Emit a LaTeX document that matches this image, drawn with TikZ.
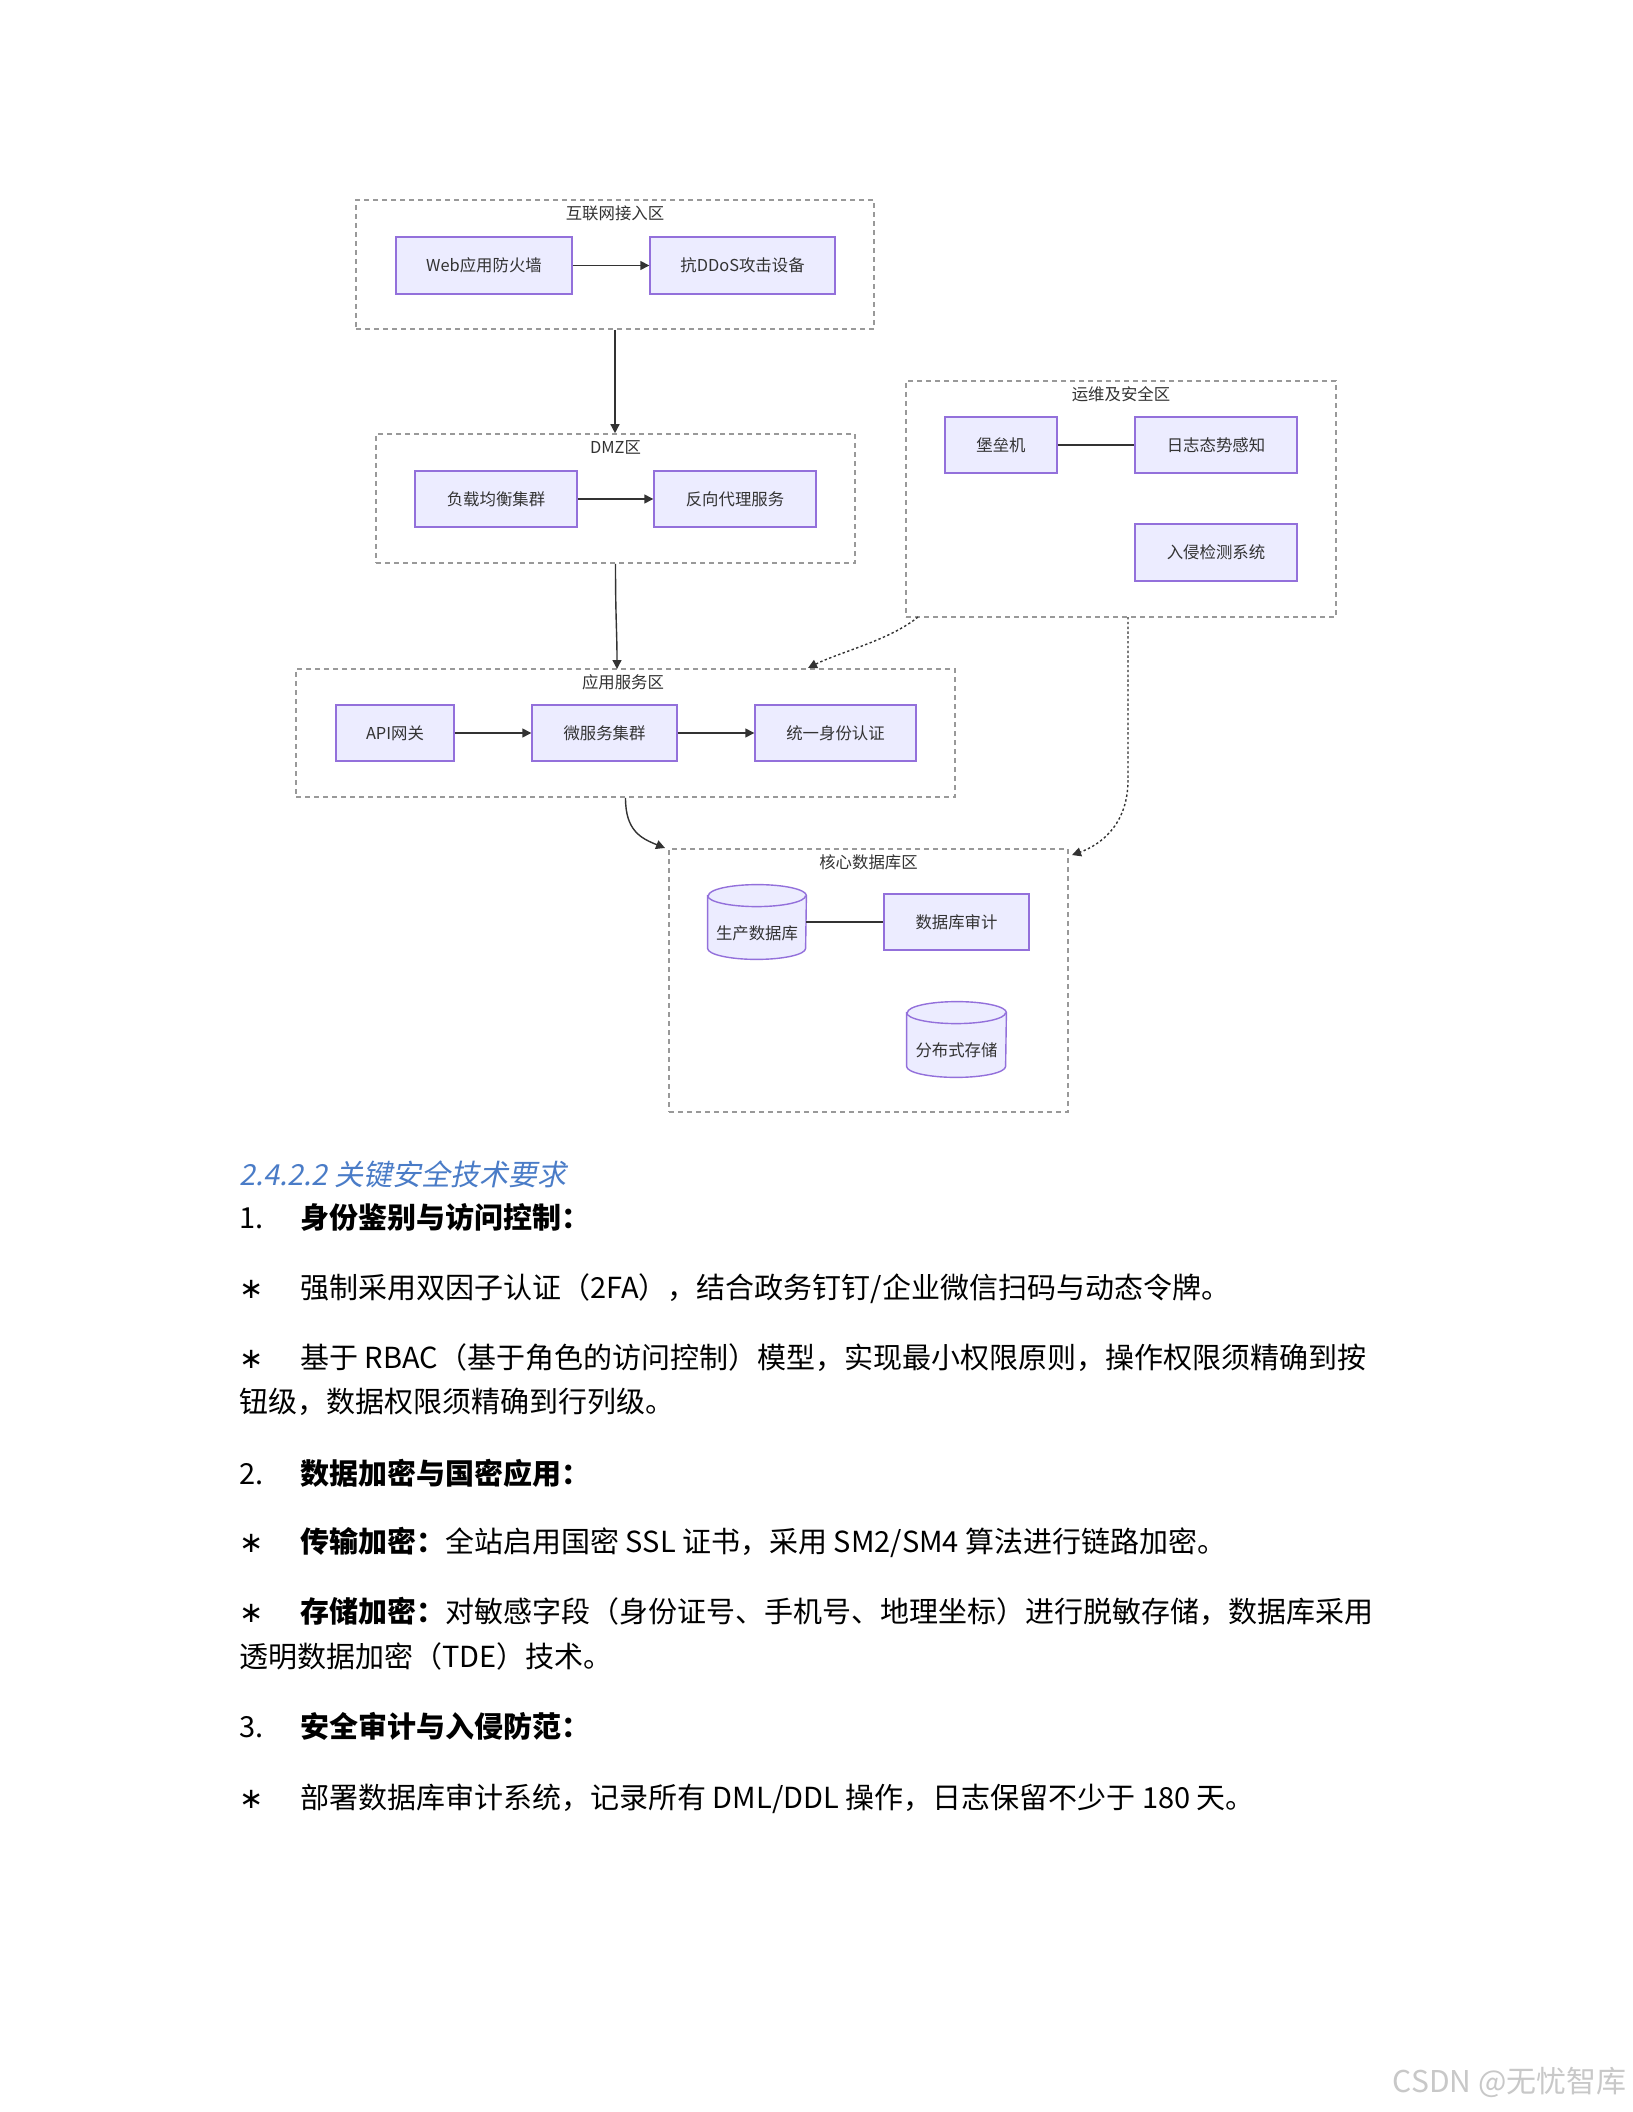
\documentclass[tikz,border=0pt]{standalone}
\usepackage{fontspec}
\usetikzlibrary{arrows.meta,backgrounds}
\newfontfamily\cjk{Noto Sans CJK SC}
\newfontfamily\headfont[FakeSlant=0.2]{Noto Sans CJK SC}
\newfontfamily\symfont{DejaVu Sans}
\definecolor{boxfill}{HTML}{ECECFF}
\definecolor{boxline}{HTML}{9370DB}
\definecolor{zoneline}{HTML}{999999}
\definecolor{edgec}{HTML}{333333}
\definecolor{txt}{HTML}{333333}
\definecolor{headblue}{HTML}{4A7CC7}
\definecolor{wmgray}{HTML}{C8C8C8}
\newcommand\dfont{\cjk\fontsize{8.2pt}{10pt}\selectfont}
\newcommand\bodyfont{\cjk\fontsize{14.5pt}{17pt}\selectfont}
\newcommand\headingfont{\headfont\fontsize{14.5pt}{17pt}\selectfont}
\newcommand\starfont{\symfont\fontsize{14.5pt}{17pt}\selectfont}
\begin{document}
\begin{tikzpicture}[x=0.5pt,y=-0.5pt,
  box/.style={draw=boxline, fill=boxfill, line width=0.7pt, text=txt, font=\dfont, inner sep=0pt},
  zone/.style={draw=zoneline, dash pattern=on 2.5pt off 2pt, line width=0.8pt, inner sep=0pt},
  ztitle/.style={text=txt, font=\dfont, inner sep=0pt},
  link/.style={draw=edgec, line width=0.7pt},
  arr/.style={link, -{Triangle[length=4.5pt,width=4.5pt]}},
  dots/.style={arr, dash pattern=on 1.2pt off 1.2pt},
  cyl/.style={fill=boxfill, draw=boxline, line width=0.7pt},
  cylnode/.style={inner sep=0pt, text=txt, font=\dfont},
  btext/.style={anchor=west, inner sep=0pt, font=\bodyfont, text height=12.76pt, text depth=1.74pt},
  star/.style={anchor=west, inner sep=0pt, font=\starfont, text height=12.76pt, text depth=1.74pt},
  heading/.style={btext, font=\headingfont, text=headblue},
  wmark/.style={anchor=east, inner sep=0pt, text=wmgray, font=\cjk\fontsize{15pt}{18pt}\selectfont}
]
\useasboundingbox (0,0) rectangle (1632,2112);

% ---------- zones ----------
\node[zone, minimum width=259pt, minimum height=64.5pt] (inet) at (615,264.5) {};
\node[ztitle] (inett) at (615,213) {互联网接入区};
\node[zone, minimum width=239.5pt, minimum height=64.5pt] (dmz) at (615.5,498.5) {};
\node[ztitle] (dmzt) at (615.5,447) {DMZ区};
\node[zone, minimum width=215pt, minimum height=118pt] (ops) at (1121,499) {};
\node[ztitle] (opst) at (1121,394) {运维及安全区};
\node[zone, minimum width=329.5pt, minimum height=64pt] (app) at (625.5,733) {};
\node[ztitle] (appt) at (623,682) {应用服务区};
\node[zone, minimum width=199.5pt, minimum height=131.5pt] (core) at (868.5,980.5) {};
\node[ztitle] (coret) at (868.5,862) {核心数据库区};

% ---------- boxes ----------
\node[box, minimum width=88pt, minimum height=28.5pt] (web) at (484,265.5) {Web应用防火墙};
\node[box, minimum width=92.5pt, minimum height=28.5pt] (ddos) at (742.5,265.5) {抗DDoS攻击设备};
\node[box, minimum width=81pt, minimum height=28pt] (lb) at (496,499) {负载均衡集群};
\node[box, minimum width=81pt, minimum height=28pt] (rp) at (735,499) {反向代理服务};
\node[box, minimum width=56pt, minimum height=28pt] (bastion) at (1001,445) {堡垒机};
\node[box, minimum width=81pt, minimum height=28pt] (log) at (1216,445) {日志态势感知};
\node[box, minimum width=81pt, minimum height=28.5pt] (ids) at (1216,552.5) {入侵检测系统};
\node[box, minimum width=59pt, minimum height=28pt] (api) at (395,733) {API网关};
\node[box, minimum width=72.5pt, minimum height=28pt] (ms) at (604.5,733) {微服务集群};
\node[box, minimum width=80.5pt, minimum height=28pt] (sso) at (835.5,733) {统一身份认证};
\node[box, minimum width=72.5pt, minimum height=28pt] (audit) at (956.5,922) {数据库审计};
\node[cylnode, minimum width=49pt, minimum height=37pt] (db) at (757,922) {\raisebox{-5.5pt}[\height][\depth]{生产数据库}};
\node[cylnode, minimum width=49.5pt, minimum height=37.5pt] (dist) at (956.5,1039.5) {\raisebox{-5.5pt}[\height][\depth]{分布式存储}};

\begin{pgfonlayer}{background}
\fill[white] (0,0) rectangle (1632,2112);
\path[cyl] ([yshift=-5.5pt]db.north west) -- ([yshift=5.5pt]db.south west)
  arc[start angle=180,end angle=360,x radius=24.5pt,y radius=5.5pt]
  -- ([yshift=-5.5pt]db.north east)
  arc[start angle=0,end angle=180,x radius=24.5pt,y radius=5.5pt] -- cycle;
\draw[cyl, fill=none] ([yshift=-5.5pt]db.north west) arc[start angle=180,end angle=360,x radius=24.5pt,y radius=5.5pt];
\path[cyl] ([yshift=-5.5pt]dist.north west) -- ([yshift=5.5pt]dist.south west)
  arc[start angle=180,end angle=360,x radius=24.75pt,y radius=5.5pt]
  -- ([yshift=-5.5pt]dist.north east)
  arc[start angle=0,end angle=180,x radius=24.75pt,y radius=5.5pt] -- cycle;
\draw[cyl, fill=none] ([yshift=-5.5pt]dist.north west) arc[start angle=180,end angle=360,x radius=24.75pt,y radius=5.5pt];
\end{pgfonlayer}

% ---------- connectors ----------
\draw[arr] (web) -- (ddos);
\draw[arr] (lb) -- (rp);
\draw[link] (bastion) -- (log);
\draw[arr] (api) -- (ms);
\draw[arr] (ms) -- (sso);
\draw[link] (db.east) -- (audit.west);
\draw[arr] (inet.south) -- (inet.south |- dmz.north);
\coordinate (appin) at (617,669);
\draw[arr] (dmz.south) .. controls (615.5,620) and (617,630) .. (appin);
\coordinate (corein) at (665,848);
\draw[arr] (app.south) .. controls (625.5,830) and (640,838) .. (corein);
\coordinate (opsout1) at (918,617);
\coordinate (appin2) at (808,668);
\draw[dots] (opsout1) .. controls (890,640) and (840,652) .. (appin2);
\coordinate (opsout2) at (1128,617);
\coordinate (opsbend) at (1128,780);
\coordinate (corein2) at (1072,855);
\draw[dots] (opsout2) -- (opsbend) .. controls (1128,825) and (1100,845) .. (corein2);

% ---------- text section ----------
\node[heading] (h) at (239,1174) {2.4.2.2 关键安全技术要求};
\node[btext] (n1) at (239,1217) {1.};
\node[btext] (t1) at (300,1217) {\bfseries 身份鉴别与访问控制：};
\node[star] (s1) at (239,1287) {∗};
\node[btext] (t2) at (300,1287) {强制采用双因子认证（2FA），结合政务钉钉/企业微信扫码与动态令牌。};
\node[star] (s2) at (239,1357) {∗};
\node[btext] (t3) at (300,1357) {基于 RBAC（基于角色的访问控制）模型，实现最小权限原则，操作权限须精确到按};
\node[btext] (t3b) at (239,1401) {钮级，数据权限须精确到行列级。};
\node[btext] (n2) at (239,1473) {2.};
\node[btext] (t4) at (300,1473) {\bfseries 数据加密与国密应用：};
\node[star] (s3) at (239,1541) {∗};
\node[btext] (t5) at (300,1541) {{\bfseries 传输加密：}全站启用国密 SSL 证书，采用 SM2/SM4 算法进行链路加密。};
\node[star] (s4) at (239,1611) {∗};
\node[btext] (t6) at (300,1611) {{\bfseries 存储加密：}对敏感字段（身份证号、手机号、地理坐标）进行脱敏存储，数据库采用};
\node[btext] (t6b) at (239,1656) {透明数据加密（TDE）技术。};
\node[btext] (n3) at (239,1726) {3.};
\node[btext] (t7) at (300,1726) {\bfseries 安全审计与入侵防范：};
\node[star] (s5) at (239,1797) {∗};
\node[btext] (t8) at (300,1797) {部署数据库审计系统，记录所有 DML/DDL 操作，日志保留不少于 180 天。};

\node[wmark] (wm) at (1627,2082) {CSDN @无忧智库};
\end{tikzpicture}
\end{document}
